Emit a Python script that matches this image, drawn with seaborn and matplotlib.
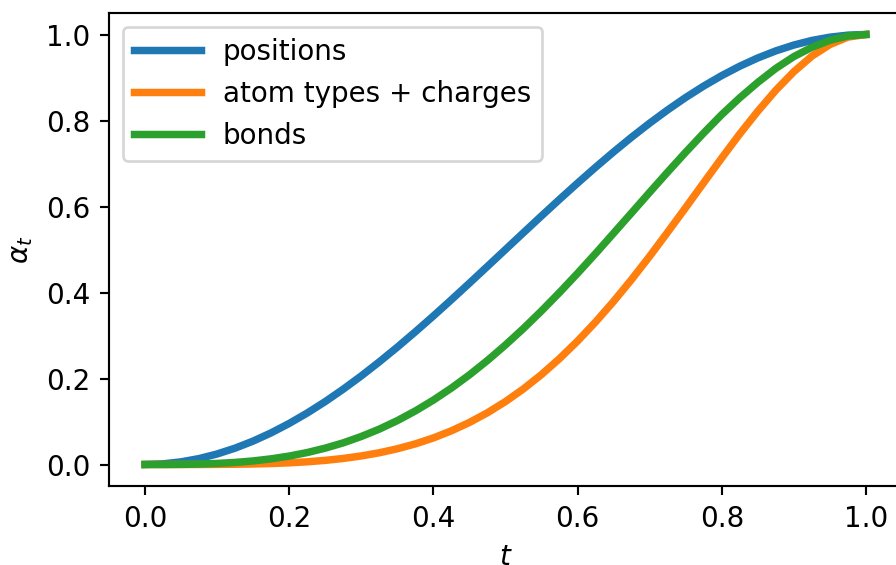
import numpy as np
import pandas as pd
import matplotlib
matplotlib.use("Agg")
import matplotlib.pyplot as plt
import seaborn as sns

# values
t = [0.000, 0.025, 0.050, 0.075, 0.100, 0.125, 0.150, 0.175, 0.200, 0.225,
     0.250, 0.275, 0.300, 0.325, 0.350, 0.375, 0.400, 0.425, 0.450, 0.475,
     0.500, 0.525, 0.550, 0.575, 0.600, 0.625, 0.650, 0.675, 0.700, 0.725,
     0.750, 0.775, 0.800, 0.825, 0.850, 0.875, 0.900, 0.925, 0.950, 0.975, 1.000]
positions = [0.0, 0.0015, 0.0062, 0.0138, 0.0245, 0.0381, 0.0545, 0.0737, 0.0955, 0.1198,
             0.1464, 0.1753, 0.2061, 0.2388, 0.2730, 0.3087, 0.3455, 0.3833, 0.4218, 0.4608,
             0.5000, 0.5392, 0.5782, 0.6167, 0.6545, 0.6913, 0.7270, 0.7613, 0.7939, 0.8247,
             0.8536, 0.8802, 0.9045, 0.9263, 0.9455, 0.9619, 0.9755, 0.9862, 0.9938, 0.9985, 1.0]
atom_types = [0.0, 0.0000, 0.0000, 0.0001, 0.0002, 0.0006, 0.0012, 0.0023, 0.0039, 0.0063,
              0.0096, 0.0141, 0.0199, 0.0273, 0.0366, 0.0480, 0.0618, 0.0784, 0.0978, 0.1204,
              0.1464, 0.1760, 0.2093, 0.2464, 0.2871, 0.3316, 0.3794, 0.4305, 0.4843, 0.5405,
              0.5975, 0.6555, 0.7129, 0.7689, 0.8216, 0.8704, 0.9135, 0.9497, 0.9766, 0.9940, 1.0]
bonds = [0.0, 0.0000, 0.0003, 0.0010, 0.0025, 0.0048, 0.0083, 0.0132, 0.0196, 0.0278,
         0.0381, 0.0504, 0.0652, 0.0823, 0.1021, 0.1246, 0.1498, 0.1778, 0.2085, 0.2420,
         0.2781, 0.3165, 0.3573, 0.4001, 0.4447, 0.4907, 0.5380, 0.5854, 0.6331, 0.6802,
         0.7263, 0.7710, 0.8138, 0.8528, 0.8887, 0.9212, 0.9487, 0.9702, 0.9865, 0.9966, 1.0]
labels = ["positions", "atom types + charges", "bonds"]
colors = ["#1f77b4", "#ff7f0e", "#2ca02c"]

df = pd.DataFrame({"t": t, labels[0]: positions, labels[1]: atom_types, labels[2]: bonds})

plt.rcParams["font.size"] = 10.4

dpi = 192
fig = plt.figure(figsize=(896 / dpi, 565 / dpi), dpi=dpi)
ax = fig.add_axes([109 / 896, 1 - 486 / 565, (902 - 109) / 896, (486 - 13) / 565])

for lab, col in zip(labels, colors):
    sns.lineplot(data=df, x="t", y=lab, color=col, linewidth=2.8, label=lab, ax=ax)

ax.set_xlim(-0.05, 1.05)
ax.set_ylim(-0.05, 1.05)
ax.set_xticks([0.0, 0.2, 0.4, 0.6, 0.8, 1.0])
ax.set_yticks([0.0, 0.2, 0.4, 0.6, 0.8, 1.0])
ax.set_xlabel("$t$")
ax.set_ylabel(r"$\alpha_t$")
ax.legend(loc="upper left", handlelength=2.4)

fig.savefig("out.png", dpi=dpi)
